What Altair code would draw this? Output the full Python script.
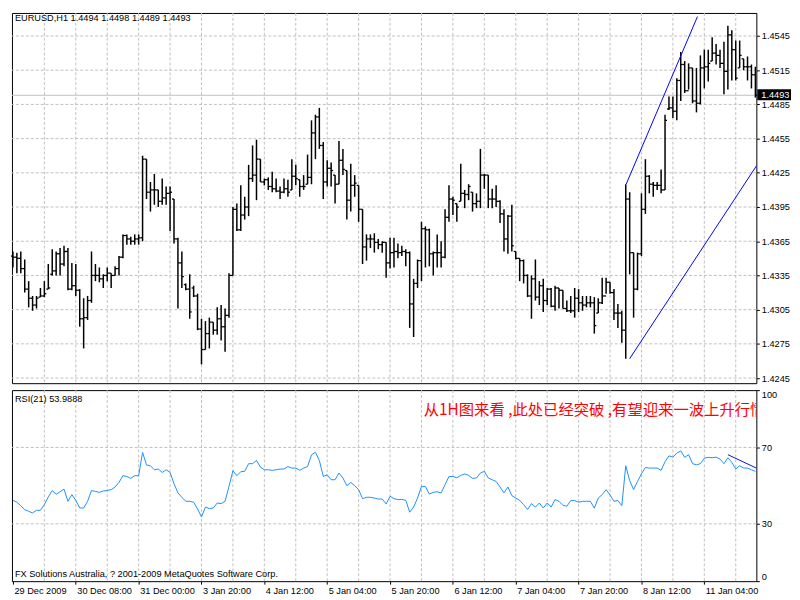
import json
import altair as alt
import pandas as pd

# ---------------- data ----------------
highs = [1.4356,1.4355,1.4356,1.4349,1.4330,1.4317,1.4317,1.4324,1.4330,1.4345,
         1.4358,1.4356,1.4359,1.4361,1.4359,1.4346,1.4345,1.4323,1.4315,1.4317,
         1.4356,1.4345,1.4342,1.4336,1.4342,1.4337,1.4343,1.4352,1.4371,1.4371,
         1.4369,1.4371,1.4371,1.4440,1.4437,1.4417,1.4424,1.4410,1.4420,1.4413,
         1.4413,1.4402,1.4368,1.4356,1.4328,1.4336,1.4326,1.4319,1.4297,1.4295,
         1.4298,1.4294,1.4307,1.4309,1.4306,1.4337,1.4395,1.4398,1.4414,1.4404,
         1.4432,1.4449,1.4454,1.4437,1.4420,1.4421,1.4426,1.4420,1.4413,1.4420,
         1.4419,1.4437,1.4432,1.4419,1.4423,1.4441,1.4471,1.4476,1.4482,1.4452,
         1.4436,1.4434,1.4423,1.4453,1.4446,1.4427,1.4433,1.4423,1.4414,1.4393,
         1.4371,1.4371,1.4372,1.4367,1.4365,1.4364,1.4368,1.4368,1.4363,1.4361,
         1.4358,1.4356,1.4332,1.4349,1.4382,1.4378,1.4376,1.4356,1.4371,1.4365,
         1.4393,1.4414,1.4404,1.4398,1.4433,1.4410,1.4415,1.4408,1.4407,1.4446,
         1.4424,1.4423,1.4411,1.4414,1.4401,1.4393,1.4388,1.4397,1.4356,1.4350,
         1.4349,1.4336,1.4335,1.4349,1.4330,1.4332,1.4324,1.4324,1.4326,1.4324,
         1.4322,1.4313,1.4317,1.4324,1.4323,1.4317,1.4317,1.4317,1.4316,1.4315,
         1.4333,1.4333,1.4329,1.4323,1.4310,1.4304,1.4415,1.4408,1.4355,1.4355,
         1.4407,1.4437,1.4423,1.4417,1.4417,1.4428,1.4476,1.4492,1.4492,1.4508,
         1.4531,1.4523,1.4521,1.4517,1.4517,1.4528,1.4533,1.4533,1.4544,1.4538,
         1.4533,1.4540,1.4554,1.4550,1.4541,1.4541,1.4525,1.4527,1.4520,1.4518]

lows = [1.4342,1.4337,1.4337,1.4320,1.4307,1.4304,1.4306,1.4316,1.4316,1.4323,
        1.4335,1.4335,1.4335,1.4343,1.4322,1.4322,1.4317,1.4290,1.4271,1.4296,
        1.4311,1.4330,1.4329,1.4324,1.4330,1.4324,1.4335,1.4335,1.4350,1.4362,
        1.4362,1.4362,1.4362,1.4365,1.4402,1.4391,1.4397,1.4395,1.4397,1.4397,
        1.4374,1.4363,1.4306,1.4324,1.4322,1.4297,1.4316,1.4287,1.4257,1.4270,
        1.4271,1.4283,1.4283,1.4278,1.4268,1.4298,1.4335,1.4374,1.4374,1.4384,
        1.4387,1.4417,1.4401,1.4417,1.4414,1.4410,1.4408,1.4408,1.4402,1.4407,
        1.4404,1.4410,1.4414,1.4404,1.4410,1.4415,1.4415,1.4437,1.4446,1.4402,
        1.4413,1.4413,1.4398,1.4415,1.4423,1.4384,1.4391,1.4404,1.4382,1.4345,
        1.4348,1.4359,1.4355,1.4358,1.4355,1.4333,1.4341,1.4342,1.4350,1.4352,
        1.4343,1.4289,1.4281,1.4324,1.4330,1.4342,1.4343,1.4335,1.4342,1.4342,
        1.4350,1.4382,1.4388,1.4382,1.4400,1.4394,1.4401,1.4391,1.4394,1.4394,
        1.4411,1.4394,1.4394,1.4395,1.4381,1.4356,1.4354,1.4356,1.4349,1.4330,
        1.4328,1.4316,1.4297,1.4313,1.4309,1.4303,1.4309,1.4307,1.4304,1.4306,
        1.4306,1.4303,1.4302,1.4298,1.4303,1.4304,1.4307,1.4307,1.4284,1.4302,
        1.4310,1.4319,1.4319,1.4296,1.4289,1.4276,1.4262,1.4336,1.4298,1.4322,
        1.4352,1.4389,1.4407,1.4404,1.4410,1.4407,1.4410,1.4480,1.4473,1.4471,
        1.4488,1.4495,1.4498,1.4486,1.4478,1.4485,1.4499,1.4505,1.4523,1.4520,
        1.4517,1.4494,1.4498,1.4506,1.4506,1.4517,1.4515,1.4506,1.4499,1.4491]

opens = [1.4352,1.4351,1.4350,1.4341,1.4323,1.4315,1.4309,1.4316,1.4317,1.4323,
         1.4336,1.4339,1.4354,1.4345,1.4356,1.4323,1.4326,1.4322,1.4297,1.4298,
         1.4313,1.4335,1.4335,1.4332,1.4335,1.4337,1.4335,1.4341,1.4351,1.4370,
         1.4367,1.4365,1.4367,1.4368,1.4437,1.4408,1.4410,1.4410,1.4400,1.4403,
         1.4407,1.4402,1.4367,1.4346,1.4327,1.4323,1.4324,1.4317,1.4288,1.4270,
         1.4284,1.4294,1.4287,1.4297,1.4290,1.4300,1.4335,1.4393,1.4375,1.4388,
         1.4395,1.4420,1.4423,1.4437,1.4417,1.4419,1.4413,1.4411,1.4409,1.4408,
         1.4411,1.4410,1.4422,1.4419,1.4413,1.4415,1.4421,1.4460,1.4474,1.4449,
         1.4417,1.4429,1.4423,1.4415,1.4436,1.4427,1.4401,1.4414,1.4414,1.4393,
         1.4360,1.4367,1.4367,1.4364,1.4362,1.4364,1.4346,1.4355,1.4356,1.4355,
         1.4356,1.4355,1.4310,1.4328,1.4348,1.4376,1.4375,1.4354,1.4355,1.4355,
         1.4351,1.4386,1.4402,1.4398,1.4400,1.4407,1.4406,1.4408,1.4398,1.4400,
         1.4423,1.4423,1.4402,1.4402,1.4400,1.4389,1.4367,1.4387,1.4356,1.4350,
         1.4348,1.4335,1.4317,1.4332,1.4316,1.4326,1.4313,1.4323,1.4308,1.4324,
         1.4322,1.4306,1.4304,1.4304,1.4315,1.4311,1.4309,1.4311,1.4311,1.4302,
         1.4311,1.4317,1.4329,1.4320,1.4302,1.4302,1.4287,1.4402,1.4355,1.4323,
         1.4354,1.4393,1.4422,1.4415,1.4414,1.4414,1.4410,1.4481,1.4482,1.4479,
         1.4506,1.4520,1.4497,1.4517,1.4488,1.4486,1.4517,1.4518,1.4523,1.4530,
         1.4528,1.4521,1.4514,1.4546,1.4533,1.4517,1.4525,1.4518,1.4518,1.4511]

closes = [1.4351,1.4350,1.4341,1.4323,1.4315,1.4309,1.4315,1.4317,1.4319,1.4324,
          1.4339,1.4354,1.4345,1.4356,1.4323,1.4326,1.4322,1.4297,1.4298,1.4313,
          1.4335,1.4335,1.4332,1.4335,1.4337,1.4335,1.4341,1.4351,1.4370,1.4367,
          1.4365,1.4367,1.4368,1.4437,1.4408,1.4410,1.4410,1.4400,1.4403,1.4407,
          1.4408,1.4367,1.4346,1.4334,1.4323,1.4303,1.4317,1.4288,1.4270,1.4284,
          1.4294,1.4287,1.4297,1.4290,1.4300,1.4335,1.4393,1.4375,1.4388,1.4395,
          1.4420,1.4423,1.4437,1.4417,1.4419,1.4413,1.4411,1.4409,1.4408,1.4411,
          1.4408,1.4422,1.4420,1.4413,1.4413,1.4421,1.4460,1.4474,1.4449,1.4417,
          1.4429,1.4427,1.4415,1.4436,1.4428,1.4401,1.4414,1.4416,1.4393,1.4360,
          1.4367,1.4367,1.4364,1.4362,1.4364,1.4346,1.4355,1.4356,1.4355,1.4356,
          1.4355,1.4310,1.4328,1.4348,1.4376,1.4375,1.4354,1.4355,1.4355,1.4351,
          1.4386,1.4402,1.4401,1.4395,1.4407,1.4406,1.4413,1.4398,1.4400,1.4423,
          1.4423,1.4402,1.4402,1.4400,1.4389,1.4367,1.4387,1.4361,1.4350,1.4348,
          1.4335,1.4317,1.4332,1.4316,1.4326,1.4313,1.4323,1.4308,1.4324,1.4322,
          1.4306,1.4304,1.4304,1.4315,1.4311,1.4309,1.4311,1.4311,1.4291,1.4311,
          1.4317,1.4329,1.4320,1.4302,1.4302,1.4287,1.4402,1.4355,1.4323,1.4354,
          1.4393,1.4422,1.4415,1.4414,1.4414,1.4410,1.4471,1.4482,1.4479,1.4506,
          1.4520,1.4497,1.4517,1.4488,1.4486,1.4517,1.4518,1.4521,1.4530,1.4528,
          1.4521,1.4514,1.4546,1.4533,1.4508,1.4528,1.4518,1.4518,1.4511,1.4493]

rsi_values = [42.3,41.3,39.5,37.4,36.6,35.7,37.1,37.1,40.1,44.1,
              47.4,45.5,46.8,48.2,41.8,45.3,42.3,38.3,38.3,41.8,
              47.4,47.0,46.5,47.2,47.5,47.9,49.3,51.7,55.2,54.8,
              53.8,55.2,55.2,67.4,60.8,60.4,58.3,58.7,56.9,58.3,
              56.9,51.0,46.2,43.9,41.8,41.8,41.3,37.8,33.6,38.8,
              38.0,38.3,40.9,40.6,41.8,49.6,57.8,55.2,57.3,57.5,
              61.5,61.5,63.2,59.7,58.3,58.3,58.0,58.3,58.7,58.7,
              60.0,59.2,59.2,58.0,59.2,60.0,66.1,67.5,63.2,54.8,
              55.7,53.1,53.1,56.6,54.0,50.0,51.7,50.0,47.9,43.2,
              43.9,43.9,43.5,43.0,43.0,40.4,44.4,43.2,42.7,42.8,
              42.3,36.1,38.8,43.5,49.6,49.6,45.6,46.5,46.8,46.2,
              50.5,54.8,54.8,54.1,55.4,56.1,55.4,53.8,54.0,56.6,
              57.5,54.0,53.1,52.2,49.3,46.2,49.3,44.8,43.5,42.3,
              40.1,37.5,40.6,38.8,40.9,38.3,40.9,38.8,42.7,41.8,
              39.7,39.2,42.2,42.2,41.3,41.8,41.8,41.8,38.2,43.5,
              45.3,47.9,45.1,41.8,42.2,39.5,60.4,52.6,47.9,52.2,
              56.2,59.5,59.2,59.2,59.2,58.0,62.5,65.6,64.9,67.0,
              68.2,64.8,66.2,61.5,60.9,61.5,64.4,64.8,64.6,64.9,
              63.9,61.5,64.6,62.2,58.7,60.4,59.2,59.2,58.3,57.5]

time_labels = ["29 Dec 2009", "30 Dec 08:00", "31 Dec 00:00", "3 Jan 20:00",
               "4 Jan 12:00", "5 Jan 04:00", "5 Jan 20:00", "6 Jan 12:00",
               "7 Jan 04:00", "7 Jan 20:00", "8 Jan 12:00", "11 Jan 04:00"]
label_bars = [0, 16, 32, 48, 64, 80, 96, 112, 128, 144, 160, 176]
grid_bars = [8, 16, 24, 32, 40, 48, 56, 64, 72, 80, 88, 96, 104, 112, 120,
             128, 136, 144, 152, 160, 168, 176, 184]
price_ticks = [1.4245, 1.4275, 1.4305, 1.4335, 1.4365, 1.4395,
               1.4425, 1.4455, 1.4485, 1.4515, 1.4545]
rsi_ticks = [0, 30, 70, 100]
rsi_grid = [30, 70]

trend_id = ["upper", "upper", "lower", "lower"]
trend_bar = [156.1, 174.25, 157.0, 189.25]
trend_price = [1.4415, 1.4562, 1.4262, 1.4431]
rsi_trend_bar = [182.0, 189.25]
rsi_trend_val = [66.2, 59.2]

last_price = [1.4493]
title_text = "EURUSD,H1  1.4494 1.4498 1.4489 1.4493"
rsi_text = "RSI(21) 53.9888"
note_text = "从1H图来看 ,此处已经突破 ,有望迎来一波上升行情"
footer_text = "FX Solutions Australia, ? 2001-2009 MetaQuotes Software Corp."

# ---------------- chart ----------------
W, HP, HR = 752, 374, 193
FONT = "Liberation Sans"
FS = 9.3

bars = pd.DataFrame({"bar": list(range(len(closes))), "open": opens,
                     "high": highs, "low": lows, "close": closes, "rsi": rsi_values})
gridx = pd.DataFrame({"bar": grid_bars})
gridp = pd.DataFrame({"price": price_ticks})
gridr = pd.DataFrame({"rsi": rsi_grid})
trend = pd.DataFrame({"id": trend_id, "bar": trend_bar, "price": trend_price})
rtrend = pd.DataFrame({"bar": rsi_trend_bar, "rsi": rsi_trend_val})
lastp = pd.DataFrame({"price": last_price, "txt": ["%.4f" % v for v in last_price]})

xs = alt.Scale(domain=[-0.25, 189.25], nice=False, zero=False)
ps = alt.Scale(domain=[1.42405, 1.45652], nice=False, zero=False)
rs = alt.Scale(domain=[0, 100], nice=False, zero=False)

GRID = dict(color="#c0c0c0", strokeDash=[3, 2], strokeWidth=1)

price_axis = alt.Axis(orient="right", values=price_ticks, format=".4f", grid=False,
                      domain=False, tickSize=3, tickColor="black", labelPadding=2,
                      labelFont=FONT, labelFontSize=FS, labelColor="black", title=None,
                      labelOverlap=False)
x_axis = alt.Axis(values=label_bars,
                  labelExpr=json.dumps(time_labels) + "[round(datum.value / 16)]",
                  tickSize=3, tickColor="black", labelAlign="left", labelBaseline="top",
                  labelPadding=2, labelOffset=1, grid=False, domain=False, title=None,
                  labelFont=FONT, labelFontSize=FS, labelColor="black",
                  labelOverlap=False, labelFlush=False, labelBound=False)
rsi_axis = alt.Axis(orient="right", values=rsi_ticks, grid=False, domain=False,
                    tickSize=3, tickColor="black", labelPadding=2, labelFlush=True,
                    labelFont=FONT, labelFontSize=FS, labelColor="black", title=None)

XP = alt.X("bar:Q", scale=xs, axis=None)          # price panel: no x axis
XR = alt.X("bar:Q", scale=xs, axis=x_axis)        # rsi panel: time axis


def YP(field):
    return alt.Y(field, scale=ps, axis=price_axis)


def YR(field):
    return alt.Y(field, scale=rs, axis=rsi_axis)


p_vgrid = alt.Chart(gridx).mark_rule(**GRID).encode(x=XP)
p_hgrid = alt.Chart(gridp).mark_rule(**GRID).encode(y=YP("price:Q"))
p_bid = alt.Chart(lastp).mark_rule(color="#c0c0c0", strokeWidth=1).encode(y=YP("price:Q"))
p_hl = alt.Chart(bars).mark_rule(color="black", strokeWidth=1.5).encode(
    x=XP, y=YP("low:Q"), y2="high:Q")
p_open = alt.Chart(bars).mark_rule(color="black", strokeWidth=1.3, x2Offset=-2).encode(
    x=XP, x2="bar:Q", y=YP("open:Q"))
p_close = alt.Chart(bars).mark_rule(color="black", strokeWidth=1.3, x2Offset=2).encode(
    x=XP, x2="bar:Q", y=YP("close:Q"))
p_trend = alt.Chart(trend).mark_line(color="#0000ff", strokeWidth=1).encode(
    x=XP, y=YP("price:Q"), detail="id:N")
p_title = alt.Chart(pd.DataFrame({"t": [title_text]})).mark_text(
    align="left", baseline="middle", font=FONT, fontSize=FS, color="black").encode(
    x=alt.value(3), y=alt.value(5.5), text="t:N")
p_box = alt.Chart(lastp).mark_rect(color="black", yOffset=-6, y2Offset=5).encode(
    x=alt.value(W + 1), x2=alt.value(W + 35), y=YP("price:Q"), y2="price:Q")
p_boxtxt = alt.Chart(lastp).mark_text(align="left", baseline="middle", font=FONT,
                                      fontSize=FS, color="white").encode(
    x=alt.value(W + 5), y=YP("price:Q"), text="txt:N")

price_panel = alt.layer(p_vgrid, p_hgrid, p_bid, p_hl, p_open, p_close, p_trend,
                        p_title, p_box, p_boxtxt).properties(width=W, height=HP)

r_vgrid = alt.Chart(gridx).mark_rule(**GRID).encode(x=XR)
r_hgrid = alt.Chart(gridr).mark_rule(**GRID).encode(y=YR("rsi:Q"))
r_line = alt.Chart(bars).mark_line(color="#1e90ff", strokeWidth=1).encode(
    x=XR, y=YR("rsi:Q"))
r_trend = alt.Chart(rtrend).mark_line(color="#1010c8", strokeWidth=1).encode(
    x=XR, y=YR("rsi:Q"))
r_label = alt.Chart(pd.DataFrame({"t": [rsi_text]})).mark_text(
    align="left", baseline="middle", font=FONT, fontSize=FS, color="black").encode(
    x=alt.value(3), y=alt.value(8.5), text="t:N")
r_note = alt.Chart(pd.DataFrame({"t": [note_text]})).mark_text(
    align="left", baseline="middle", font="Noto Sans CJK SC", fontSize=15.5,
    color="#ff0000", clip=True).encode(
    x=alt.value(416), y=alt.value(20), text="t:N")
r_footer = alt.Chart(pd.DataFrame({"t": [footer_text]})).mark_text(
    align="left", baseline="middle", font=FONT, fontSize=FS, color="black").encode(
    x=alt.value(3), y=alt.value(HR - 7), text="t:N")

rsi_panel = alt.layer(r_vgrid, r_hgrid, r_line, r_trend, r_label, r_note,
                      r_footer).properties(width=W, height=HR)

chart = alt.vconcat(price_panel, rsi_panel, spacing=5).properties(
    padding={"left": 1, "top": 1, "right": 0, "bottom": 0},
    background="white",
).configure_view(stroke="black", strokeWidth=1)

chart.save("out.html", embed_options={"renderer": "svg", "actions": False})
